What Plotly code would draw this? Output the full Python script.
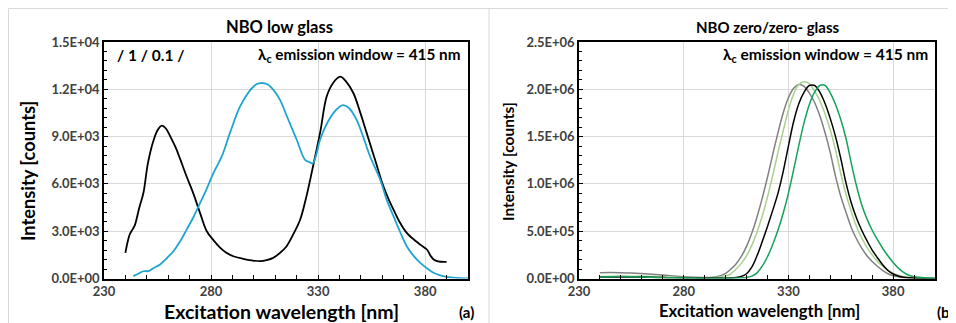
import plotly.graph_objects as go

# ---------------- Data: panel (a) NBO low glass ----------------
a_black_x = [240, 241, 242, 243.5, 244.5, 246.5, 248.4, 250.5, 253, 255, 257, 259, 261, 263.5,
             265.5, 268.5, 271.7, 275, 278, 281, 284.2, 287, 290.4, 295, 299, 303, 306, 309, 312,
             315.3, 318, 321.6, 324, 326.3, 328.6, 331, 334, 337, 340.3, 343, 346.5, 349.5,
             352.7, 356.6, 360.5, 363, 365.2, 368, 371.4, 374, 377.7, 380.8, 382.5, 384, 386, 390]
a_black_y = [1630, 2300, 2790, 3150, 3420, 4500, 5420, 7300, 8700, 9400, 9700, 9500, 9000, 8300,
             7600, 6500, 5400, 4100, 3000, 2450, 1960, 1650, 1410, 1250, 1150, 1100, 1170, 1310, 1600,
             2050, 2700, 3730, 4900, 6270, 7740, 9300, 11540, 12400, 12800, 12500, 11750, 10600,
             9220, 7530, 5840, 5000, 4370, 3600, 2890, 2550, 2150, 1840, 1450, 1200, 1080, 1050]

a_blue_x = [243.7, 246, 248.4, 250.7, 253, 256.2, 259, 262.4, 265.5, 268.6, 271.8, 274.9, 278,
            281.1, 285, 289, 293.5, 298, 301, 303.7, 306.5, 309.5, 312.2, 316, 320, 323.9, 326,
            327.5, 329, 330.9, 334, 337.1, 340, 341.8, 344.5, 348, 351, 354.3, 359, 362, 365.2,
            368.3, 371.4, 374.5, 377.7, 380.8, 383.9, 387, 390, 395, 400]
a_blue_y = [150, 300, 460, 470, 650, 890, 1250, 1730, 2350, 3100, 3900, 4790, 5700,
            6690, 7740, 9300, 10900, 11900, 12300, 12400, 12300, 11900, 11330, 10100, 8800, 7530, 7380,
            7300, 7800, 8800, 9800, 10490, 10900, 11000, 10800, 10060, 9000, 7740, 6270, 5000, 3950,
            2950, 2050, 1450, 990, 650, 360, 200, 110, 40, 0]

# ---------------- Data: panel (b) NBO zero/zero- glass ----------------
b_x = [240, 245, 250, 255, 260, 265, 270, 275, 280, 285, 290, 295,
       297.5, 300, 302.5, 305, 307.5, 310, 312.5, 315, 317.5, 320, 322.5, 325, 327.5, 330,
       332.5, 335, 337.5, 340, 342.5, 345, 347.5, 350, 352.5, 355, 357.5, 360, 362.5, 365,
       367.5, 370, 372.5, 375, 377.5, 380, 382.5, 385, 387.5, 390, 392.5, 395, 397.5, 400]
b_gray = [62000, 63000, 62000, 58000, 52000, 45000, 36000, 27000, 19000, 13000, 10000, 16000,
          30000, 55000, 99000, 154000, 233000, 340000, 479000, 650000, 850000, 1070000, 1310000, 1540000, 1750000, 1910000,
          2010000, 2050000, 2030000, 1960000, 1860000, 1720000, 1540000, 1330000, 1080000, 870000, 700000, 540000, 420000, 320000,
          240000, 180000, 130000, 85000, 50000, 30000, 18000, 10000, 6000, 3000, 2000, 1000, 500, 0]
b_lightgreen = [22000, 24000, 25000, 25000, 24000, 21000, 18000, 14000, 11000, 8000, 7000, 10000,
                16000, 27000, 50000, 100000, 160000, 240000, 350000, 490000, 660000, 860000, 1090000, 1330000, 1560000, 1780000,
                1950000, 2050000, 2080000, 2060000, 1980000, 1880000, 1740000, 1570000, 1360000, 1110000, 890000, 710000, 550000, 430000,
                330000, 250000, 180000, 130000, 90000, 55000, 35000, 20000, 12000, 6000, 3000, 2000, 1000, 0]
b_black = [16000, 17000, 17000, 16000, 15000, 13000, 10000, 8000, 6000, 5000, 4000, 4000,
           4000, 4000, 5000, 10000, 22000, 50000, 120000, 240000, 390000, 550000, 720000, 900000, 1130000, 1400000,
           1660000, 1850000, 1970000, 2040000, 2040000, 1970000, 1850000, 1690000, 1500000, 1270000, 1010000, 800000, 640000, 510000,
           400000, 300000, 220000, 145000, 85000, 48000, 27000, 14000, 7000, 4000, 2000, 1000, 500, 0]
b_green = [16000, 19000, 20000, 19000, 16000, 13000, 10000, 7000, 5000, 4000, 3000, 3000,
           3000, 3000, 3000, 4000, 6000, 10000, 25000, 60000, 130000, 230000, 360000, 510000, 690000, 900000,
           1150000, 1410000, 1650000, 1840000, 1970000, 2040000, 2040000, 1960000, 1840000, 1680000, 1480000, 1220000, 980000, 780000,
           630000, 510000, 410000, 320000, 240000, 170000, 110000, 65000, 35000, 20000, 12000, 7000, 4000, 3000]

# ---------------- Tick labels ----------------
x_ticks = [230, 280, 330, 380]
x_tick_labels = ["230", "280", "330", "380"]
a_y_ticks = [0, 3000, 6000, 9000, 12000, 15000]
a_y_tick_labels = ["0.0E+00", "3.0E+03", "6.0E+03", "9.0E+03", "1.2E+04", "1.5E+04"]
b_y_ticks = [0, 500000, 1000000, 1500000, 2000000, 2500000]
b_y_tick_labels = ["0.0E+00", "5.0E+05", "1.0E+06", "1.5E+06", "2.0E+06", "2.5E+06"]

FONT = "Lato"
OFF = 8              # page body margin
W, H = 956 - OFF, 323 - OFF


def px(x):
    return (x - OFF) / W


def py(y):
    return 1 - (y - OFF) / H


fig = go.Figure()
fig.add_trace(go.Scatter(x=a_black_x, y=a_black_y, mode="lines", line=dict(color="#000000", width=1.8, shape="spline"),
                         xaxis="x", yaxis="y", showlegend=False))
fig.add_trace(go.Scatter(x=a_blue_x, y=a_blue_y, mode="lines", line=dict(color="#1fa5cf", width=1.8, shape="spline"),
                         xaxis="x", yaxis="y", showlegend=False))

for ys, col in [(b_gray, "#808080"), (b_lightgreen, "#a9d18e"), (b_black, "#000000"), (b_green, "#14a35a")]:
    fig.add_trace(go.Scatter(x=b_x, y=ys, mode="lines", line=dict(color=col, width=1.5, shape="spline"),
                             xaxis="x2", yaxis="y2", showlegend=False))

tickfont = dict(family=FONT, size=13, color="#404040", weight="bold")
common_x = dict(range=[230, 400], tickvals=x_ticks, ticktext=x_tick_labels, showgrid=True,
                gridcolor="#d9d9d9", gridwidth=1, showline=True, linecolor="#000000", linewidth=1.5,
                mirror=True, ticks="inside", ticklen=4, tickcolor="#000000", tickfont=tickfont,
                minor=dict(dtick=10, ticks="inside", ticklen=4, tickcolor="#000000", showgrid=False),
                zeroline=False, fixedrange=True, automargin=False)
common_y = dict(showgrid=True, gridcolor="#d9d9d9", gridwidth=1, showline=True, linecolor="#000000",
                linewidth=1.5, mirror=True, ticks="inside", ticklen=4, tickcolor="#000000",
                tickfont=tickfont, zeroline=False, fixedrange=True, automargin=False)

y_dom = [py(278.5), py(42)]
fig.update_layout(
    width=W, height=H,
    margin=dict(l=0, r=0, t=0, b=0, autoexpand=False),
    paper_bgcolor="white", plot_bgcolor="white",
    showlegend=False,
    xaxis=dict(domain=[px(104), px(468)], anchor="y", **common_x),
    yaxis=dict(domain=y_dom, anchor="x", range=[0, 15000], tickvals=a_y_ticks, ticktext=a_y_tick_labels,
               minor=dict(dtick=600, ticks="inside", ticklen=3, tickcolor="#000000", showgrid=False), **common_y),
    xaxis2=dict(domain=[px(579), px(935)], anchor="y2", **common_x),
    yaxis2=dict(domain=y_dom, anchor="x2", range=[0, 2500000], tickvals=b_y_ticks, ticktext=b_y_tick_labels,
                minor=dict(dtick=100000, ticks="inside", ticklen=3, tickcolor="#000000", showgrid=False), **common_y),
)

ann = []
def add_text(x, y, text, size, xanchor="center", angle=0, weight="bold"):
    ann.append(dict(x=px(x), y=py(y), xref="paper", yref="paper", text=text, showarrow=False,
                    xanchor=xanchor, yanchor="middle", textangle=angle,
                    font=dict(family=FONT, size=size, color="#000000", weight=weight)))

# titles
add_text(279, 27, "NBO low glass", 16.5)
add_text(767, 27, "NBO zero/zero- glass", 15)
# axis titles
add_text(281, 311, "Excitation wavelength [nm]", 19.5)
add_text(759, 311, "Excitation wavelength [nm]", 16.7)
add_text(28, 171, "Intensity [counts]", 18.3, angle=-90)
add_text(508, 162, "Intensity [counts]", 15.5, angle=-90)
# in-plot annotations
add_text(115, 55, "/ 1 / 0.1 /", 15.5, xanchor="left")
add_text(256, 55, "λ<sub>c</sub> emission window = 415 nm", 15.3, xanchor="left")
add_text(721, 55, "λ<sub>c</sub> emission window = 415 nm", 15.5, xanchor="left")
# panel labels
add_text(466, 312, "(a)", 15)
add_text(955, 312, "(b)", 15, xanchor="right")
fig.update_layout(annotations=ann)

# chart frame borders
frame = dict(color="#d9d9d9", width=1)
fig.add_shape(type="line", xref="paper", yref="paper", x0=px(8.5), x1=1, y0=py(8.5), y1=py(8.5), line=frame)
fig.add_shape(type="line", xref="paper", yref="paper", x0=px(8.5), x1=px(8.5), y0=py(8.5), y1=0, line=frame)
fig.add_shape(type="line", xref="paper", yref="paper", x0=px(489), x1=px(489), y0=py(8.5), y1=0, line=frame)

fig.write_html("out.html")
